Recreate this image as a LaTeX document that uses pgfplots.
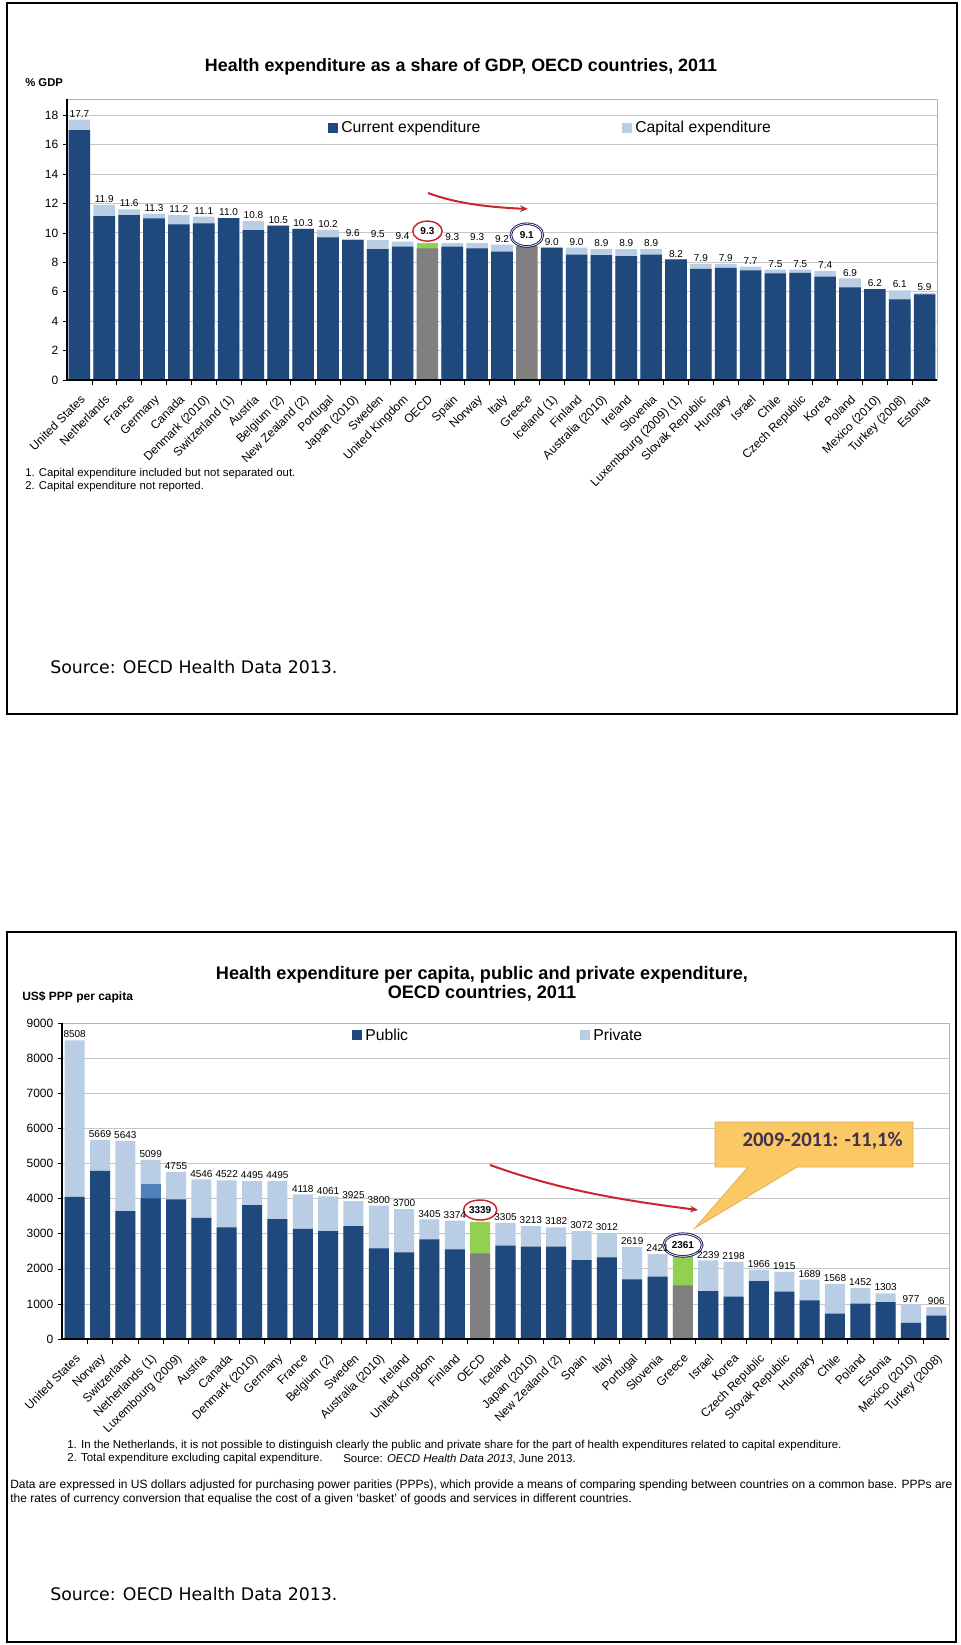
\documentclass[border=0pt]{standalone}
\usepackage{pgfplots}
\pgfplotsset{compat=1.18}
\usepackage{pgfplotstable}
\usepackage{fontspec}
\setmainfont{Liberation Sans}
\newfontfamily\carlito{Carlito}
\newfontfamily\srcfont{DejaVu Sans}
\usetikzlibrary{arrows.meta}
\definecolor{dblue}{HTML}{1F497D}
\definecolor{lblue}{HTML}{B9CDE5}
\definecolor{mblue}{HTML}{4F81BD}
\definecolor{ggrey}{HTML}{808080}
\definecolor{ggreen}{HTML}{92D050}
\definecolor{ared}{HTML}{C8262C}
\definecolor{anavy}{HTML}{1B1E5A}
\definecolor{cfill}{HTML}{FAC864}
\definecolor{cdraw}{HTML}{E3AE55}
\definecolor{ctext}{HTML}{3F3151}
\newcommand\fs[2]{\fontsize{#1}{#2}\selectfont}

\pgfplotstableread{
x tot cur
0 17.7 16.98
1 11.9 11.14
2 11.6 11.2
3 11.3 10.98
4 11.2 10.57
5 11.1 10.64
6 11.0 11.0
7 10.8 10.19
8 10.5 10.5
9 10.3 10.26
10 10.2 9.69
11 9.6 9.5
12 9.5 8.9
13 9.4 9.06
15 9.3 9.06
16 9.3 8.94
17 9.2 8.72
19 9.0 9.0
20 9.0 8.53
21 8.9 8.49
22 8.9 8.42
23 8.9 8.53
24 8.2 8.2
25 7.9 7.56
26 7.9 7.63
27 7.7 7.45
28 7.5 7.24
29 7.5 7.29
30 7.4 7.02
31 6.9 6.29
32 6.2 6.18
33 6.1 5.48
34 5.9 5.82
}\topdata

\pgfplotstableread{
x tot pub
0 8508 4051
1 5669 4791
2 5643 3643
3 5099 4004
4 4755 3975
5 4546 3453
6 4522 3178
7 4495 3814
8 4495 3416
9 4118 3140
10 4061 3074
11 3925 3216
12 3800 2581
13 3700 2467
14 3405 2837
15 3374 2552
17 3305 2657
18 3213 2628
19 3182 2628
20 3072 2249
21 3012 2324
22 2619 1698
23 2421 1774
25 2239 1366
26 2198 1205
27 1966 1651
28 1915 1347
29 1689 1100
30 1568 720
31 1452 1010
32 1303 1050
33 977 460
34 906 664
}\botdata

\pgfplotsset{
  mybars/.style={
    scale only axis, anchor=south west, clip=false,
    xmin=-0.5, xmax=34.5, ymin=0,
    xtick={0,...,34},
    tick pos=left, tick align=outside,
    major x tick style={draw=none},
    minor x tick num=1,
    minor tick length=4pt, major tick length=3pt,
    every tick/.style={black},
    ymajorgrids, grid style={gray!45, line width=0.6pt},
    axis line style={gray!60, line width=0.6pt},
    /pgf/number format/assume math mode=true,
    /pgf/number format/1000 sep={},
    xticklabel shift=6pt,
    xticklabel style={rotate=45, anchor=north east, inner sep=1pt, font=\fs{9}{10}},
    yticklabel style={font=\fs{9}{11}},
    every node near coord/.append style={font=\fs{7.5}{9}, inner sep=1.5pt, black},
  },
  bx/.style={ybar, bar shift=0pt, draw=none, fill=#1},
}

\begin{document}
\begin{tikzpicture}
\useasboundingbox (0,0) rectangle (720pt,-1233.75pt);

% ---------- top chart ----------
\begin{axis}[mybars,
  at={(50.25pt,-285pt)}, width=652.5pt, height=210.75pt,
  ymax=19.1, ytick={0,2,...,18},
  bar width=0.87,
  xticklabels={United States, Netherlands, France, Germany, Canada, Denmark (2010), Switzerland (1), Austria, Belgium (2), New Zealand (2), Portugal, Japan (2010), Sweden, United Kingdom, OECD, Spain, Norway, Italy, Greece, Iceland (1), Finland, Australia (2010), Ireland, Slovenia, Luxembourg (2009) (1), Slovak Republic, Hungary, Israel, Chile, Czech Republic, Korea, Poland, Mexico (2010), Turkey (2008), Estonia},
]
\addplot[bx=lblue, point meta=y, nodes near coords={\pgfmathprintnumber[fixed,fixed zerofill,precision=1]{\pgfplotspointmeta}}] table[x=x,y=tot]{\topdata};
\addplot[bx=dblue] table[x=x,y=cur]{\topdata};
\addplot[bx=ggreen] coordinates {(14,9.3)};
\addplot[bx=ggrey] coordinates {(14,8.94) (18,9.1)};
\draw[black, line width=0.8pt] (rel axis cs:0,1) -- (rel axis cs:0,0) -- (rel axis cs:1,0);
\draw[ared, line width=1.1pt, fill=white] (axis cs:14,10.12) ellipse [x radius=11pt, y radius=7.5pt];
\node[font=\bfseries\fs{7.5}{9}] at (axis cs:14,10.12) {9.3};
\draw[anavy, double=white, double distance=0.5pt, line width=0.7pt, fill=white] (axis cs:18,9.85) ellipse [x radius=12pt, y radius=8.5pt];
\node[font=\bfseries\fs{7.5}{9}] at (axis cs:18,9.85) {9.1};
\end{axis}

% ---------- bottom chart ----------
\begin{axis}[mybars,
  at={(46.5pt,-1004.25pt)}, width=665.25pt, height=237pt,
  ymax=9000, ytick={0,1000,...,9000},
  bar width=0.79,
  xticklabels={United States, Norway, Switzerland, Netherlands (1), Luxembourg (2009), Austria, Canada, Denmark (2010), Germany, France, Belgium (2), Sweden, Australia (2010), Ireland, United Kingdom, Finland, OECD, Iceland, Japan (2010), New Zealand (2), Spain, Italy, Portugal, Slovenia, Greece, Israel, Korea, Czech Republic, Slovak Republic, Hungary, Chile, Poland, Estonia, Mexico (2010), Turkey (2008)},
]
\addplot[bx=lblue, point meta=y, nodes near coords={\pgfmathprintnumber[fixed,precision=0]{\pgfplotspointmeta}}] table[x=x,y=tot]{\botdata};
\addplot[bx=mblue] coordinates {(3,4412)};
\addplot[bx=dblue] table[x=x,y=pub]{\botdata};
\addplot[bx=ggreen] coordinates {(16,3339) (24,2361)};
\addplot[bx=ggrey] coordinates {(16,2438) (24,1527)};
\draw[black, line width=0.8pt] (rel axis cs:0,1) -- (rel axis cs:0,0) -- (rel axis cs:1,0);
\draw[ared, line width=1.1pt, fill=white] (axis cs:16,3674) ellipse [x radius=12.5pt, y radius=7.5pt];
\node[font=\bfseries\fs{7.5}{9}] at (axis cs:16,3674) {3339};
\draw[anavy, double=white, double distance=0.5pt, line width=0.7pt, fill=white] (axis cs:24,2677) ellipse [x radius=14.5pt, y radius=8.5pt];
\node[font=\bfseries\fs{7.5}{9}] at (axis cs:24,2677) {2361};
\end{axis}

% ---------- annotations in pixel units ----------
\begin{scope}[x=0.75pt,y=-0.75pt]
\draw[line width=2pt] (7,3) rectangle (957,714);
\draw[line width=2pt] (7,932) rectangle (956,1642);

\node[font=\bfseries\fs{13.4}{16}] at (461,67) {Health expenditure as a share of GDP, OECD countries, 2011};
\node[anchor=west, font=\bfseries\fs{8.5}{10}, inner sep=0] at (25,83) {\% GDP};
\fill[dblue] (328,123) rectangle (338,133);
\node[anchor=west, font=\fs{11.8}{14}, inner sep=0] at (341,128) {Current expenditure};
\fill[lblue] (622,123) rectangle (632,133);
\node[anchor=west, font=\fs{11.8}{14}, inner sep=0] at (635,128) {Capital expenditure};
\node[anchor=west, font=\fs{8.5}{10}, inner sep=0] at (25,474) {1. Capital expenditure included but not separated out.};
\node[anchor=west, font=\fs{8.5}{10}, inner sep=0] at (25,487) {2. Capital expenditure not reported.};
\node[anchor=west, font=\srcfont\fs{13}{15}, inner sep=0] at (50,667) {Source: OECD Health Data 2013.};
\draw[ared, line width=1.5pt, -{Stealth[length=6pt,width=5pt]}] (428,193) .. controls (455,203) and (485,207) .. (528,209);

\node[font=\bfseries\fs{13.6}{14.5}, align=center] at (482,984) {Health expenditure per capita, public and private expenditure,\\OECD countries, 2011};
\node[anchor=west, font=\bfseries\fs{9}{11}, inner sep=0] at (22,997) {US\$ PPP per capita};
\fill[dblue] (352,1030) rectangle (362,1040);
\node[anchor=west, font=\fs{11.8}{14}, inner sep=0] at (365,1035) {Public};
\fill[lblue] (580,1030) rectangle (590,1040);
\node[anchor=west, font=\fs{11.8}{14}, inner sep=0] at (593,1035) {Private};
\node[anchor=west, font=\fs{8.6}{10}, inner sep=0] at (67,1446) {1. In the Netherlands, it is not possible to distinguish clearly the public and private share for the part of health expenditures related to capital expenditure.};
\node[anchor=west, font=\fs{8.6}{10}, inner sep=0] at (67,1459) {2. Total expenditure excluding capital expenditure.};
\node[anchor=west, font=\fs{8.6}{10}, inner sep=0] at (343,1459) {Source: \textit{OECD Health Data 2013}, June 2013.};
\node[anchor=west, font=\fs{9}{11}, inner sep=0] at (10,1485) {Data are expressed in US dollars adjusted for purchasing power parities (PPPs), which provide a means of comparing spending between countries on a common base. PPPs are};
\node[anchor=west, font=\fs{9}{11}, inner sep=0] at (10,1499) {the rates of currency conversion that equalise the cost of a given `basket' of goods and services in different countries.};
\node[anchor=west, font=\srcfont\fs{13}{15}, inner sep=0] at (50,1594) {Source: OECD Health Data 2013.};

\draw[ared, line width=1.5pt, -{Stealth[length=6pt,width=5pt]}] (490,1165) .. controls (560,1190) and (620,1200) .. (698,1210);
\filldraw[fill=cfill, draw=cdraw, line width=0.6pt] (715,1122) -- (913,1122) -- (913,1167) -- (797,1167) -- (695,1228) -- (748,1167) -- (715,1167) -- cycle;
\node[anchor=east, font=\carlito\bfseries\fs{15.5}{18}, text=ctext, inner sep=0] at (903,1141) {2009-2011: -11,1\%};
\end{scope}
\end{tikzpicture}
\end{document}
